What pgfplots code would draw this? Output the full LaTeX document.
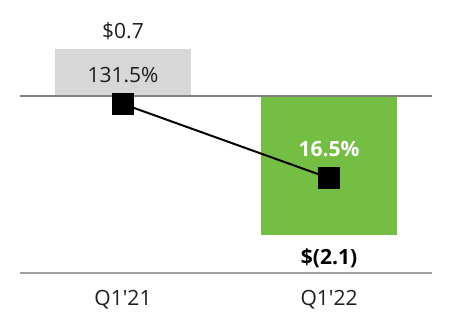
\documentclass[border=0pt]{standalone}
\usepackage{pgfplots}
\pgfplotsset{compat=1.18}
\usepackage{fontspec}
\setmainfont{Open Sans}
\definecolor{barGreen}{RGB}{116,190,67}
\definecolor{barGray}{RGB}{215,215,215}
\definecolor{txt}{RGB}{30,30,30}
\begin{document}
\begin{tikzpicture}
\begin{axis}[
  scale only axis, width=226pt, height=166pt,
  xmin=-0.597, xmax=1.597, ymin=-3.572, ymax=1.443,
  hide axis, clip=false,
]
\path (rel axis cs:0,0) rectangle (rel axis cs:1,1);
\addplot[ybar, bar width=0.66, bar shift=0pt, fill=barGray, draw=none] coordinates {(0,0.7)};
\addplot[ybar, bar width=0.66, bar shift=0pt, fill=barGreen, draw=none] coordinates {(1,-2.1)};
\addplot[color={rgb,255:red,128;green,128;blue,128}, line width=1pt] coordinates {(-0.5,0) (1.5,0)};
\addplot[color={rgb,255:red,160;green,160;blue,160}, line width=1pt] coordinates {(-0.5,-2.68) (1.5,-2.68)};
\node[font=\fontsize{10.5}{12}\selectfont, text=txt] at (axis cs:0,0.975) {\$0.7};
\node[font=\fontsize{10.5}{12}\selectfont, text=txt] at (axis cs:0,0.31) {131.5\%};
\node[font=\fontsize{10.5}{12}\selectfont\bfseries, text=white] at (axis cs:1,-0.808) {16.5\%};
\node[font=\fontsize{10.5}{12}\selectfont\bfseries, text=black] at (axis cs:1,-2.455) {\$(2.1)};
\node[font=\fontsize{10.5}{12}\selectfont, text=txt] at (axis cs:0,-3.09) {Q1\textquotesingle21};
\node[font=\fontsize{10.5}{12}\selectfont, text=txt] at (axis cs:1,-3.09) {Q1\textquotesingle22};
\end{axis}
\begin{axis}[
  scale only axis, width=226pt, height=166pt,
  xmin=-0.597, xmax=1.597, ymin=-222.8, ymax=293.1,
  hide axis, clip=false,
]
\addplot[black, line width=1pt, mark=square*, mark size=5pt, mark options={solid, fill=black}] coordinates {(0,131.5) (1,16.5)};
\end{axis}
\end{tikzpicture}
\end{document}
